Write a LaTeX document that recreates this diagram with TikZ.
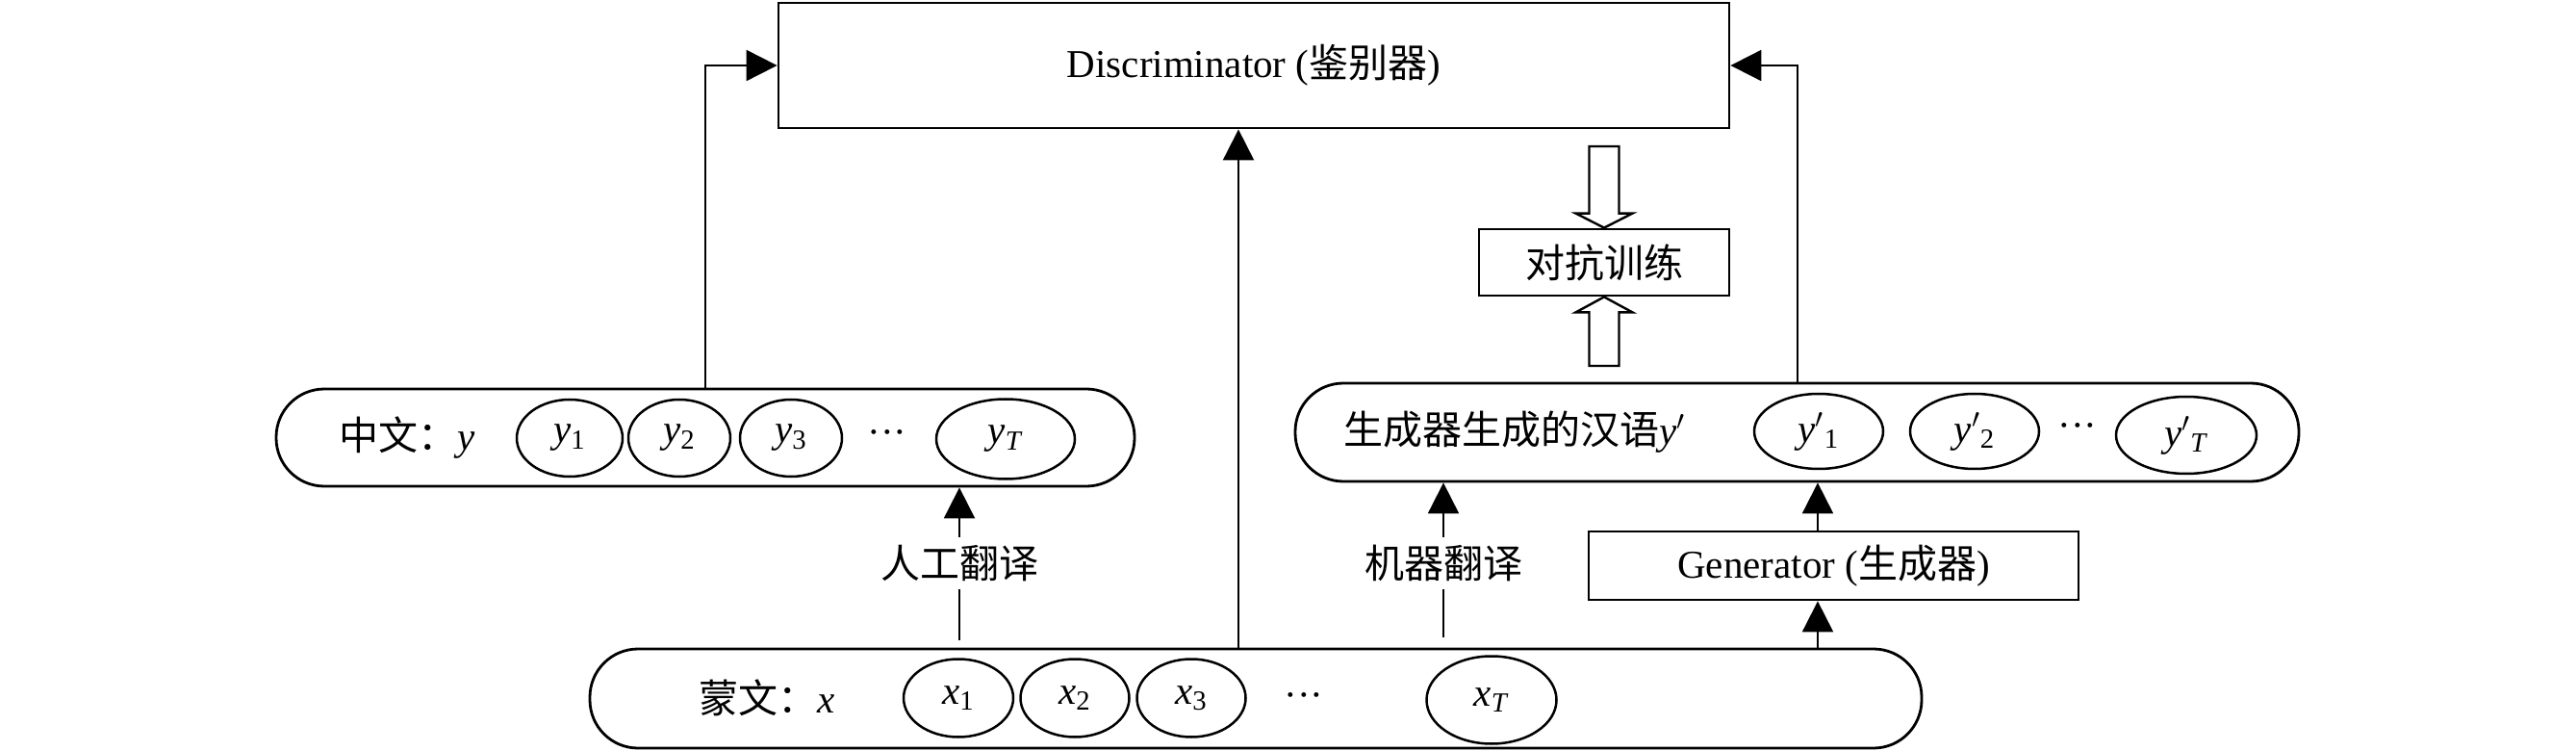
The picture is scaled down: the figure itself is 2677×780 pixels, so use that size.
\documentclass[tikz,border=0pt]{standalone}
\usepackage{fontspec}
\setmainfont{Liberation Serif}
\newfontfamily\cjk{Noto Sans CJK SC}
\usetikzlibrary{arrows.meta,shapes.geometric,calc}
\newcommand\myvar[2]{\textit{#1}\textsubscript{#2}}
\begin{document}
\begin{tikzpicture}[x=0.5pt,y=-0.5pt,
  font=\fontsize{20.5pt}{24pt}\selectfont,
  box/.style={draw, line width=1.4pt, inner sep=0pt},
  bar/.style={draw, line width=1.4pt, rounded corners=25pt, inner sep=0pt},
  ell/.style 2 args={ellipse, draw, line width=1.25pt, inner sep=0pt, minimum width=#1*0.5pt, minimum height=#2*0.5pt},
  arr/.style={line width=1pt, -{Triangle[length=16pt,width=16pt]}},
  ln/.style={line width=1pt},
  hollow/.style={draw, line width=1.2pt, line join=miter},
  lab/.style={inner sep=0pt, minimum height=27pt}
]
\useasboundingbox (0,0) rectangle (2677,780);

% Discriminator and adversarial training
\node[box, minimum width=988*0.5pt, minimum height=130*0.5pt] (disc) at (1303,68) {Discriminator ({\cjk 鉴别器})};
\node[box, minimum width=260*0.5pt, minimum height=69*0.5pt] (adv) at (1667,272.5) {\cjk 对抗训练};

% Chinese reference sentence
\node[bar, minimum width=892*0.5pt, minimum height=101*0.5pt] (zh) at (733,454.5) {};
\node (zht) at (423,455) {{\cjk 中文：}\textit{y}};
\node[ell={110}{80}] (y1) at (592,455) {\myvar{y}{1}};
\node[ell={106}{80}] (y2) at (706,455) {\myvar{y}{2}};
\node[ell={106}{80}] (y3) at (822,455) {\myvar{y}{3}};
\node (yd) at (922,455) {···};
\node[ell={144}{83}] (yT) at (1045,456) {\myvar{y}{\textit{T}}};

% Generated Chinese sentence
\node[bar, minimum width=1043*0.5pt, minimum height=102*0.5pt] (gout) at (1867.5,449) {};
\node (goutt) at (1574,449) {{\cjk 生成器生成的汉语}\textit{y}$'$};
\node[ell={134}{78}] (yp1) at (1890,448) {\textit{y}$'$\textsubscript{1}};
\node[ell={134}{78}] (yp2) at (2052,448) {\textit{y}$'$\textsubscript{2}};
\node (ypd) at (2159,448) {···};
\node[ell={146}{80}] (ypT) at (2272,452) {\textit{y}$'$\textsubscript{\textit{T}}};

% Mongolian source sentence
\node[bar, minimum width=1384*0.5pt, minimum height=103*0.5pt] (mn) at (1305,725.5) {};
\node (mnt) at (797,725) {{\cjk 蒙文：}\textit{x}};
\node[ell={114}{81}] (x1) at (996,725) {\myvar{x}{1}};
\node[ell={113}{81}] (x2) at (1117,725) {\myvar{x}{2}};
\node[ell={113}{81}] (x3) at (1238,725) {\myvar{x}{3}};
\node (xd) at (1355,727) {···};
\node[ell={135}{91}] (xT) at (1550,727) {\myvar{x}{\textit{T}}};

% Generator
\node[box, minimum width=509*0.5pt, minimum height=71*0.5pt] (gen) at (1905.5,587.5) {Generator ({\cjk 生成器})};

% Translation labels
\node[lab] (l1) at (997,585) {\cjk 人工翻译};
\node[lab] (l2) at (1500,585) {\cjk 机器翻译};
\coordinate (l1s) at (997,665);
\coordinate (l2s) at (1500,662);
\draw[ln] (l1s) -- (l1);
\draw[arr] (l1) -- (l1 |- zh.south);
\draw[ln] (l2s) -- (l2);
\draw[arr] (l2) -- (l2 |- gout.south);

% Connectors to the discriminator
\draw[arr] (zh.north) |- (disc.west);
\draw[arr] (gout.north) |- (disc.east);
\coordinate (mid) at (1287,400);
\draw[arr] (mn.north -| mid) -- (disc.south -| mid);

% Generator connectors
\coordinate (gx) at (1889,600);
\draw[arr] (mn.north -| gx) -- (gen.south -| gx);
\draw[arr] (gen.north -| gx) -- (gout.south -| gx);

% Hollow arrows
\coordinate (h1) at (1667,152);
\draw[hollow] ($(h1)+(-15.5,0)$) -- ($(h1)+(15.5,0)$) -- ($(adv.north)+(15.5,-15)$) -- ($(adv.north)+(29.5,-15)$) -- (adv.north) -- ($(adv.north)+(-29.5,-15)$) -- ($(adv.north)+(-15.5,-15)$) -- cycle;
\coordinate (h2) at (1667,380);
\draw[hollow] ($(h2)+(-15.5,0)$) -- ($(h2)+(15.5,0)$) -- ($(adv.south)+(15.5,16)$) -- ($(adv.south)+(29.5,16)$) -- (adv.south) -- ($(adv.south)+(-29.5,16)$) -- ($(adv.south)+(-15.5,16)$) -- cycle;
\end{tikzpicture}
\end{document}
